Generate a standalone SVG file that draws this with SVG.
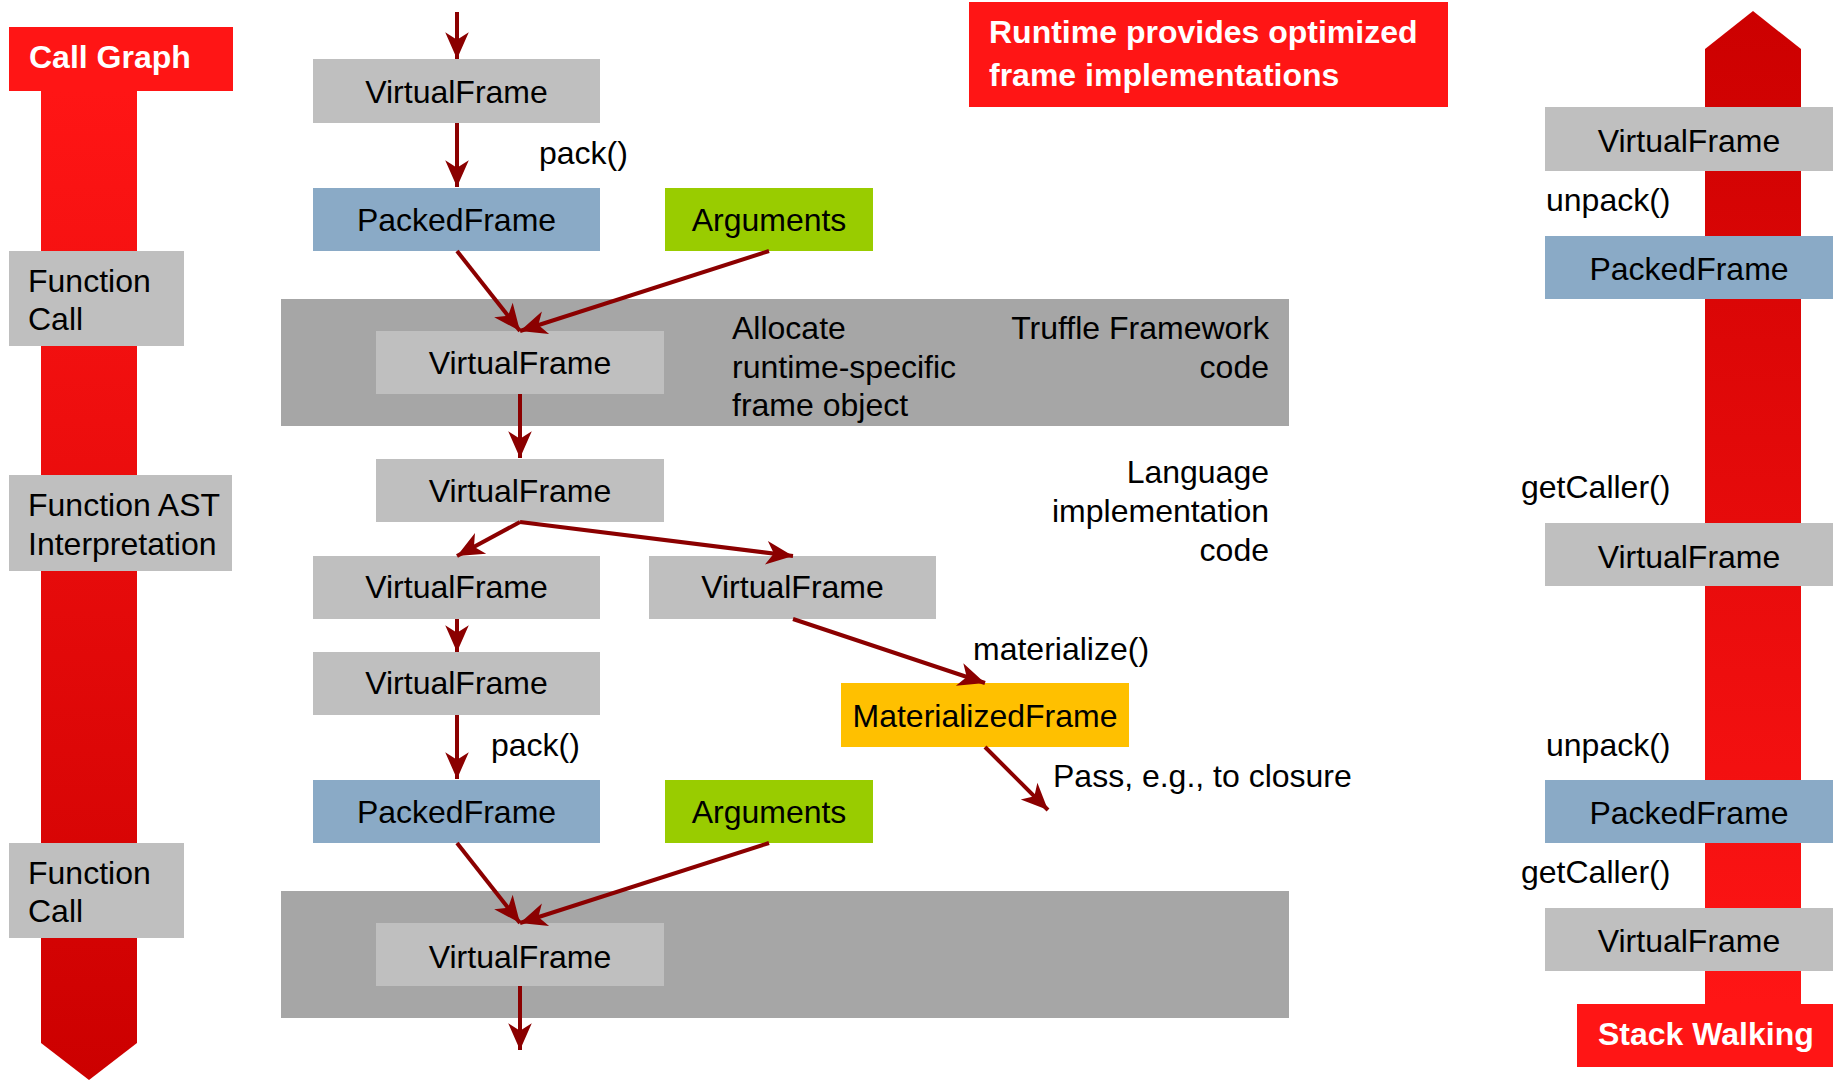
<svg xmlns="http://www.w3.org/2000/svg" width="1839" height="1081" viewBox="0 0 1839 1081">
  <style>
    text { font-family: "Liberation Sans", Arial, sans-serif; font-size: 32px; fill: #000; }
    .bold { font-weight: bold; fill: #fff; }
    .c { text-anchor: middle; }
    .r { text-anchor: end; }
    .vf { fill: #bfbfbf; }
    .pf { fill: #8aaac6; }
    .arg { fill: #99cc00; }
    .mf { fill: #ffc000; }
    .zone { fill: #a6a6a6; }
    .tag { fill: #ff1515; }
    .edge { stroke: #8b0000; stroke-width: 4; fill: none; marker-end: url(#head); }
  </style>
  <defs>
    <marker id="head" markerUnits="userSpaceOnUse" markerWidth="30" markerHeight="30" viewBox="-26 -13 28 26" refX="0" refY="0" orient="auto">
      <path d="M0,0 L-25,-11 L-18,0 L-25,11 Z" fill="#8b0000"/>
    </marker>
    <linearGradient id="downGrad" x1="0" y1="0" x2="0" y2="1">
      <stop offset="0" stop-color="#ff1515"/>
      <stop offset="1" stop-color="#cc0000"/>
    </linearGradient>
    <linearGradient id="upGrad" x1="0" y1="0" x2="0" y2="1">
      <stop offset="0" stop-color="#cc0000"/>
      <stop offset="1" stop-color="#ff1515"/>
    </linearGradient>
  </defs>

  <!-- Call graph direction (left) -->
  <g id="call-graph">
    <path d="M41,91 H137 V1043 L89,1080 L41,1043 Z" fill="url(#downGrad)"/>
    <rect class="tag" x="9" y="27" width="224" height="64"/>
    <text class="bold" x="29" y="68">Call Graph</text>
  </g>
  <g id="function-call-1">
    <rect class="vf" x="9" y="251" width="175" height="95"/>
    <text x="28" y="292">Function</text>
    <text x="28" y="330">Call</text>
  </g>
  <g id="function-ast">
    <rect class="vf" x="9" y="475" width="223" height="96"/>
    <text x="28" y="516">Function AST</text>
    <text x="28" y="555">Interpretation</text>
  </g>
  <g id="function-call-2">
    <rect class="vf" x="9" y="843" width="175" height="95"/>
    <text x="28" y="884">Function</text>
    <text x="28" y="922">Call</text>
  </g>

  <!-- Runtime note -->
  <g id="runtime-note">
    <rect class="tag" x="969" y="2" width="479" height="105"/>
    <text class="bold" x="989" y="43">Runtime provides optimized</text>
    <text class="bold" x="989" y="86">frame implementations</text>
  </g>

  <!-- Framework zones -->
  <g id="zone-1">
    <rect class="zone" x="281" y="299" width="1008" height="127"/>
    <text x="732" y="339">Allocate</text>
    <text x="732" y="378">runtime-specific</text>
    <text x="732" y="416">frame object</text>
    <text class="r" x="1269" y="339">Truffle Framework</text>
    <text class="r" x="1269" y="378">code</text>
  </g>
  <g id="zone-2">
    <rect class="zone" x="281" y="891" width="1008" height="127"/>
  </g>

  <!-- Center column nodes -->
  <g id="vf-top">
    <rect class="vf" x="313" y="59" width="287" height="64"/>
    <text class="c" x="456.5" y="103">VirtualFrame</text>
  </g>
  <g id="packed-1">
    <rect class="pf" x="313" y="188" width="287" height="63"/>
    <text class="c" x="456.5" y="231">PackedFrame</text>
  </g>
  <g id="args-1">
    <rect class="arg" x="665" y="188" width="208" height="63"/>
    <text class="c" x="769" y="231">Arguments</text>
  </g>
  <g id="vf-alloc-1">
    <rect class="vf" x="376" y="331" width="288" height="63"/>
    <text class="c" x="520" y="374">VirtualFrame</text>
  </g>
  <g id="vf-2">
    <rect class="vf" x="376" y="459" width="288" height="63"/>
    <text class="c" x="520" y="502">VirtualFrame</text>
  </g>
  <g id="language-note">
    <text class="r" x="1269" y="483">Language</text>
    <text class="r" x="1269" y="522">implementation</text>
    <text class="r" x="1269" y="561">code</text>
  </g>
  <g id="vf-3">
    <rect class="vf" x="313" y="556" width="287" height="63"/>
    <text class="c" x="456.5" y="598">VirtualFrame</text>
  </g>
  <g id="vf-4">
    <rect class="vf" x="649" y="556" width="287" height="63"/>
    <text class="c" x="792.5" y="598">VirtualFrame</text>
  </g>
  <g id="vf-5">
    <rect class="vf" x="313" y="652" width="287" height="63"/>
    <text class="c" x="456.5" y="694">VirtualFrame</text>
  </g>
  <g id="materialized">
    <rect class="mf" x="841" y="683" width="288" height="64"/>
    <text class="c" x="985" y="727">MaterializedFrame</text>
  </g>
  <g id="packed-2">
    <rect class="pf" x="313" y="780" width="287" height="63"/>
    <text class="c" x="456.5" y="823">PackedFrame</text>
  </g>
  <g id="args-2">
    <rect class="arg" x="665" y="780" width="208" height="63"/>
    <text class="c" x="769" y="823">Arguments</text>
  </g>
  <g id="vf-alloc-2">
    <rect class="vf" x="376" y="923" width="288" height="63"/>
    <text class="c" x="520" y="968">VirtualFrame</text>
  </g>

  <!-- Stack walking direction (right) -->
  <g id="stack-walking">
    <path d="M1705,1004 V49 L1753,11 L1801,49 V1004 Z" fill="url(#upGrad)"/>
    <rect class="tag" x="1577" y="1004" width="256" height="63"/>
    <text class="bold" x="1598" y="1045">Stack Walking</text>
  </g>
  <g id="sw-vf-1">
    <rect class="vf" x="1545" y="107" width="288" height="64"/>
    <text class="c" x="1689" y="152">VirtualFrame</text>
  </g>
  <g id="sw-packed-1">
    <rect class="pf" x="1545" y="236" width="288" height="63"/>
    <text class="c" x="1689" y="280">PackedFrame</text>
  </g>
  <g id="sw-vf-2">
    <rect class="vf" x="1545" y="523" width="288" height="63"/>
    <text class="c" x="1689" y="568">VirtualFrame</text>
  </g>
  <g id="sw-packed-2">
    <rect class="pf" x="1545" y="780" width="288" height="63"/>
    <text class="c" x="1689" y="824">PackedFrame</text>
  </g>
  <g id="sw-vf-3">
    <rect class="vf" x="1545" y="908" width="288" height="63"/>
    <text class="c" x="1689" y="952">VirtualFrame</text>
  </g>

  <!-- Connectors and their labels -->
  <g id="connectors">
    <line class="edge" x1="457" y1="12" x2="457" y2="59"/>
    <line class="edge" x1="457" y1="123" x2="457" y2="187"/>
    <line class="edge" x1="457" y1="251" x2="520" y2="331"/>
    <line class="edge" x1="769" y1="251" x2="520" y2="331"/>
    <line class="edge" x1="520" y1="394" x2="520" y2="458"/>
    <line class="edge" x1="520" y1="522" x2="457" y2="556"/>
    <line class="edge" x1="520" y1="522" x2="793" y2="556"/>
    <line class="edge" x1="457" y1="619" x2="457" y2="652"/>
    <line class="edge" x1="457" y1="715" x2="457" y2="779"/>
    <line class="edge" x1="457" y1="843" x2="520" y2="923"/>
    <line class="edge" x1="769" y1="843" x2="520" y2="923"/>
    <line class="edge" x1="520" y1="986" x2="520" y2="1050"/>
    <line class="edge" x1="793" y1="619" x2="985" y2="683"/>
    <line class="edge" x1="985" y1="747" x2="1048" y2="810"/>
    <text x="539" y="164">pack()</text>
    <text x="491" y="756">pack()</text>
    <text x="973" y="660">materialize()</text>
    <text x="1053" y="787">Pass, e.g., to closure</text>
    <text x="1546" y="211">unpack()</text>
    <text x="1521" y="498">getCaller()</text>
    <text x="1546" y="756">unpack()</text>
    <text x="1521" y="883">getCaller()</text>
  </g>
</svg>
